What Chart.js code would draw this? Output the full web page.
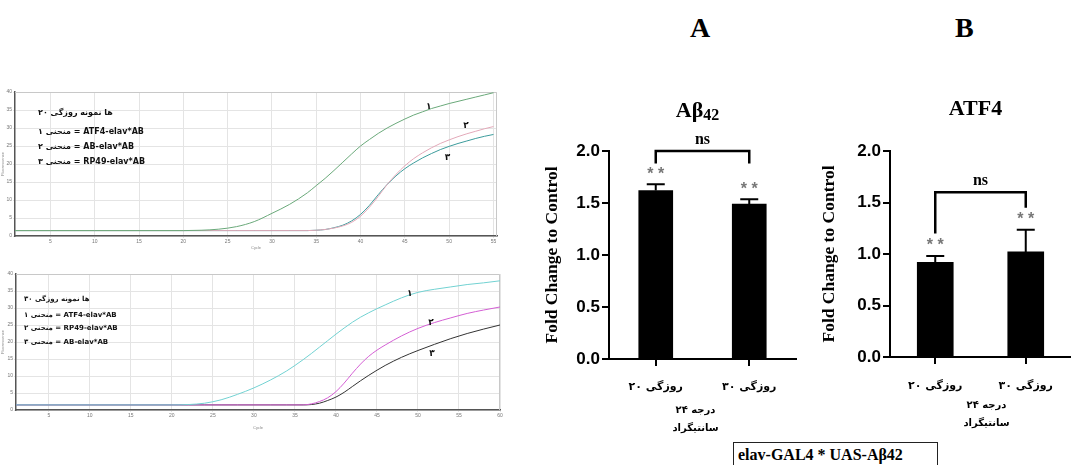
<!DOCTYPE html>
<html>
<head>
<meta charset="utf-8">
<script src="https://cdn.jsdelivr.net/npm/chart.js@4.4.0/dist/chart.umd.min.js"></script>
<style>
  body { margin: 0; background: #fff; width: 1071px; height: 465px; overflow: hidden; position: relative; }
  .pane { position: absolute; }
  .letter { position: absolute; font: bold 28px "Liberation Serif", serif; color: #000; }
  .genotype { position: absolute; left: 733px; top: 442px; width: 199px; height: 30px; border: 1px solid #222;
    font: bold 16px "Liberation Serif", serif; line-height: 24px; padding-left: 4px; color: #000; }
</style>
</head>
<body>
<div class="pane" style="left:0;top:85px;width:505px;height:165px"><canvas id="qpcr20"></canvas></div>
<div class="pane" style="left:0;top:265px;width:505px;height:165px"><canvas id="qpcr30"></canvas></div>
<div class="pane" style="left:520px;top:90px;width:280px;height:350px"><canvas id="barAb"></canvas></div>
<div class="pane" style="left:790px;top:90px;width:281px;height:350px"><canvas id="barAtf"></canvas></div>
<div class="letter" style="left:690px;top:12px">A</div>
<div class="letter" style="left:955px;top:12px">B</div>
<div class="genotype">elav-GAL4 * UAS-Aβ42</div>

<script>
// --- amplification curves, 20 day flies ---
const cycles20 = [1, 5, 10, 15, 20, 22, 24, 26, 28, 30, 32, 34, 35, 36, 37, 38, 39, 40, 41, 42, 43, 44, 45, 46, 47, 48, 49, 50, 51, 52, 53, 54, 55];
const atf4Day20 = [1.5, 1.5, 1.5, 1.5, 1.5, 1.6, 1.9, 2.6, 4.0, 6.3, 8.8, 12.0, 14.0, 16.0, 18.2, 20.5, 22.8, 25.0, 26.8, 28.5, 30.0, 31.3, 32.5, 33.6, 34.5, 35.4, 36.1, 36.8, 37.4, 38.0, 38.6, 39.2, 39.8];
const abDay20 = [1.5, 1.5, 1.5, 1.5, 1.5, 1.5, 1.5, 1.5, 1.5, 1.5, 1.5, 1.5, 1.6, 1.8, 2.2, 2.8, 3.8, 5.5, 8.0, 11.0, 14.3, 17.1, 19.5, 21.5, 23.1, 24.5, 25.7, 26.7, 27.6, 28.4, 29.1, 29.8, 30.4];
const rp49Day20 = [1.5, 1.5, 1.5, 1.5, 1.5, 1.5, 1.5, 1.5, 1.5, 1.5, 1.5, 1.5, 1.6, 1.8, 2.3, 3.0, 4.2, 6.0, 8.5, 11.5, 14.3, 16.7, 18.7, 20.3, 21.7, 22.9, 24.0, 24.9, 25.7, 26.4, 27.1, 27.7, 28.2];
const xTicks20 = [5, 10, 15, 20, 25, 30, 35, 40, 45, 50, 55];

// --- amplification curves, 30 day flies ---
const cycles30 = [1, 5, 10, 15, 20, 22, 24, 26, 28, 30, 32, 34, 36, 37, 38, 39, 40, 41, 42, 43, 44, 45, 46, 48, 50, 52, 54, 56, 58, 60];
const atf4Day30 = [1.5, 1.5, 1.5, 1.5, 1.5, 1.6, 2.0, 3.0, 4.6, 6.5, 8.8, 11.5, 14.8, 16.6, 18.5, 20.4, 22.3, 24.1, 25.8, 27.3, 28.6, 29.8, 30.9, 33.0, 34.6, 35.5, 36.2, 36.9, 37.4, 38.0];
const rp49Day30 = [1.5, 1.5, 1.5, 1.5, 1.5, 1.5, 1.5, 1.5, 1.5, 1.5, 1.5, 1.5, 1.5, 1.8, 2.5, 3.6, 5.4, 7.9, 10.8, 13.5, 15.8, 17.6, 19.1, 21.8, 24.0, 25.7, 27.1, 28.4, 29.4, 30.3];
const abDay30 = [1.5, 1.5, 1.5, 1.5, 1.5, 1.5, 1.5, 1.5, 1.5, 1.5, 1.5, 1.5, 1.5, 1.6, 2.0, 2.8, 3.8, 5.2, 6.9, 8.6, 10.2, 11.7, 13.1, 15.5, 17.5, 19.3, 21.0, 22.5, 23.8, 25.0];
const xTicks30 = [5, 10, 15, 20, 25, 30, 35, 40, 45, 50, 55, 60];
const fluoTicks = [0, 5, 10, 15, 20, 25, 30, 35, 40];

// legend text inside the qPCR plots, pieces listed left to right as printed
const legend20 = [["۲۰", "روزگی", "نمونه", "ها"], ["۱", "منحنی", "= ATF4-elav*AB"], ["۲", "منحنی", "= AB-elav*AB"], ["۳", "منحنی", "= RP49-elav*AB"]];
const legend30 = [["۳۰", "روزگی", "نمونه", "ها"], ["۱", "منحنی", "= ATF4-elav*AB"], ["۲", "منحنی", "= RP49-elav*AB"], ["۳", "منحنی", "= AB-elav*AB"]];
// curve numbers: [text, cycle, fluorescence]
const curveTags20 = [["۱", 47.7, 36.0], ["۲", 51.9, 30.6], ["۳", 49.8, 21.9]];
const curveTags30 = [["۱", 49.0, 34.3], ["۲", 51.6, 25.6], ["۳", 51.7, 16.6]];

// --- qPCR fold change (bar charts) ---
const groups = ["۲۰ روزگی", "۳۰ روزگی"];
const tempLabel = ["۲۴ درجه", "سانتیگراد"];
const abFold = [1.62, 1.49];
const abSem = [0.06, 0.045];
const atf4Fold = [0.92, 1.02];
const atf4Sem = [0.06, 0.215];
const foldTicks = [0, 0.5, 1.0, 1.5, 2.0];

function pairs(xs, ys) {
  return xs.map((x, i) => ({ x: x, y: ys[i] }));
}

// draw words one by one, left to right, so mixed Persian/Latin keeps the printed order
function drawWords(ctx, words, x, y, align) {
  const gap = ctx.measureText(" ").width;
  const widths = words.map(w => ctx.measureText(w).width);
  const total = widths.reduce((s, w) => s + w, 0) + gap * (words.length - 1);
  let cur = align === "center" ? x - total / 2 : x;
  ctx.textAlign = "left";
  words.forEach((w, i) => {
    ctx.fillText(w, cur, y);
    cur += widths[i] + gap;
  });
}

function qpcrChart(id, cycles, series, colors, xMax, xTicks, legendLines, legendPos, tags, box) {
  const plugin = {
    id: "qpcrText",
    beforeDatasetsDraw(chart) {
      const { ctx, chartArea: a } = chart;
      ctx.save();
      ctx.strokeStyle = "#c8c8c8";
      ctx.lineWidth = 1;
      ctx.beginPath();
      ctx.moveTo(a.left, a.top + 0.5);
      ctx.lineTo(a.right - 0.5, a.top + 0.5);
      ctx.lineTo(a.right - 0.5, a.bottom);
      ctx.stroke();
      ctx.restore();
    },
    afterDraw(chart) {
      const { ctx, chartArea: a, scales } = chart;
      ctx.save();
      ctx.direction = "ltr";
      ctx.fillStyle = "#111";
      ctx.textBaseline = "middle";
      ctx.font = "bold " + legendPos.size + "px 'DejaVu Sans'";
      legendLines.forEach((words, i) => drawWords(ctx, words, a.left + legendPos.dx, a.top + legendPos.ys[i], "left"));
      ctx.font = "bold 9px 'DejaVu Sans'";
      ctx.textAlign = "center";
      tags.forEach(([t, cx, cy]) => ctx.fillText(t, scales.x.getPixelForValue(cx), scales.y.getPixelForValue(cy)));
      ctx.restore();
    }
  };
  new Chart(document.getElementById(id), {
    type: "line",
    data: {
      datasets: series.map((s, i) => ({
        data: pairs(cycles, s),
        borderColor: colors[i],
        borderWidth: 1,
        pointRadius: 0,
        cubicInterpolationMode: "monotone"
      }))
    },
    options: {
      animation: false,
      responsive: true,
      maintainAspectRatio: false,
      layout: { padding: { top: box.top, right: box.right, left: 0, bottom: 0 } },
      plugins: { legend: { display: false }, tooltip: { enabled: false } },
      scales: {
        x: {
          type: "linear", min: 1, max: xMax,
          afterBuildTicks: s => { s.ticks = xTicks.map(v => ({ value: v })); },
          afterFit: s => { s.height = box.xh; },
          ticks: { font: { size: 5 }, color: "#777", padding: 1 },
          grid: { color: "#e4e4e4", tickLength: 2 },
          border: { color: "#555", width: 1.5 },
          title: { display: true, text: "Cycle", font: { size: 4 }, color: "#888", padding: 0 }
        },
        y: {
          min: 0, max: 40,
          afterBuildTicks: s => { s.ticks = fluoTicks.map(v => ({ value: v })); },
          afterFit: s => { s.width = box.yw; },
          ticks: { font: { size: 5 }, color: "#777", padding: 1 },
          grid: { color: "#e4e4e4", tickLength: 2 },
          border: { color: "#555", width: 1.5 },
          title: { display: true, text: "Fluorescence", font: { size: 4 }, color: "#888", padding: 0 }
        }
      }
    },
    plugins: [plugin]
  });
}

qpcrChart("qpcr20", cycles20, [atf4Day20, abDay20, rp49Day20], ["#6aa97a", "#e3a9b9", "#3c9c9c"], 55.4, xTicks20,
  legend20, { dx: 23, ys: [21, 40, 55, 70], size: 8 }, curveTags20, { top: 7, right: 8, xh: 14, yw: 15 });
qpcrChart("qpcr30", cycles30, [atf4Day30, rp49Day30, abDay30], ["#72d2d2", "#d45fd4", "#333333"], 60, xTicks30,
  legend30, { dx: 8, ys: [25, 41, 54, 68], size: 7 }, curveTags30, { top: 9, right: 5, xh: 20, yw: 16 });

function barChart(id, title, values, sems, bracket, cfg) {
  const plugin = {
    id: "barExtras",
    afterDatasetsDraw(chart) {
      const { ctx, chartArea: a, scales } = chart;
      const bars = chart.getDatasetMeta(0).data;
      const y = scales.y;
      ctx.save();
      ctx.direction = "ltr";
      // upper error bars
      ctx.strokeStyle = "#000";
      ctx.lineWidth = 2;
      bars.forEach((b, i) => {
        const top = y.getPixelForValue(values[i] + sems[i]);
        ctx.beginPath();
        ctx.moveTo(b.x, b.y);
        ctx.lineTo(b.x, top);
        ctx.moveTo(b.x - 9, top);
        ctx.lineTo(b.x + 9, top);
        ctx.stroke();
        ctx.fillStyle = "#777";
        ctx.font = "bold 16px 'Liberation Sans'";
        ctx.textAlign = "center";
        ctx.textBaseline = "middle";
        ctx.fillText("* *", b.x, top - 10);
      });
      // significance bracket
      const yTop = y.getPixelForValue(bracket.top);
      ctx.lineWidth = 2.5;
      ctx.beginPath();
      ctx.moveTo(bars[0].x, y.getPixelForValue(bracket.legs[0]));
      ctx.lineTo(bars[0].x, yTop);
      ctx.lineTo(bars[1].x, yTop);
      ctx.lineTo(bars[1].x, y.getPixelForValue(bracket.legs[1]));
      ctx.stroke();
      ctx.fillStyle = "#000";
      ctx.font = "bold 16px 'Liberation Serif'";
      ctx.textBaseline = "alphabetic";
      ctx.fillText("ns", (bars[0].x + bars[1].x) / 2, yTop - 7);
      // category labels and temperature note under the x axis
      ctx.textBaseline = "middle";
      ctx.font = "bold 11px 'DejaVu Sans'";
      const xs = scales.x;
      groups.forEach((g, i) => drawWords(ctx, g.split(" "), xs.getPixelForTick(i), a.bottom + cfg.labelDy, "center"));
      ctx.font = "bold 10px 'DejaVu Sans'";
      const mid = (a.left + a.right) / 2 + cfg.noteDx;
      tempLabel.forEach((t, i) => drawWords(ctx, t.split(" "), mid, a.bottom + cfg.noteDy + i * 18, "center"));
      // panel title, with optional subscript part
      ctx.textBaseline = "alphabetic";
      const cx = (a.left + a.right) / 2 + cfg.titleDx;
      ctx.font = "bold 22px 'Liberation Serif'";
      const w1 = ctx.measureText(title[0]).width;
      ctx.font = "bold 16px 'Liberation Serif'";
      const w2 = title[1] ? ctx.measureText(title[1]).width : 0;
      const x0 = cx - (w1 + w2) / 2;
      ctx.textAlign = "left";
      ctx.font = "bold 22px 'Liberation Serif'";
      ctx.fillText(title[0], x0, cfg.titleY);
      if (title[1]) {
        ctx.font = "bold 16px 'Liberation Serif'";
        ctx.fillText(title[1], x0 + w1, cfg.titleY + 3);
      }
      ctx.restore();
    }
  };
  new Chart(document.getElementById(id), {
    type: "bar",
    data: {
      labels: groups,
      datasets: [{ data: values, backgroundColor: "#000", barThickness: cfg.barW }]
    },
    options: {
      animation: false,
      responsive: true,
      maintainAspectRatio: false,
      layout: { padding: { top: 61, right: cfg.right, left: 0, bottom: 0 } },
      plugins: { legend: { display: false }, tooltip: { enabled: false } },
      scales: {
        x: {
          afterFit: s => { s.height = cfg.xh; },
          grid: { offset: false, drawOnChartArea: false, tickLength: 7, color: "#000", lineWidth: 2 },
          border: { color: "#000", width: 2 },
          ticks: { display: false }
        },
        y: {
          min: 0, max: 2,
          afterBuildTicks: s => { s.ticks = foldTicks.map(v => ({ value: v })); },
          afterFit: s => { s.width = cfg.yw; },
          grid: { drawOnChartArea: false, tickLength: 7, color: "#000", lineWidth: 2 },
          border: { color: "#000", width: 2 },
          ticks: { callback: v => v.toFixed(1), font: { family: "Liberation Sans", size: 17, weight: "bold" }, color: "#000", padding: 2 },
          title: {
            display: true, text: "Fold Change to Control", color: "#000",
            font: { family: "Liberation Serif", size: 17.5, weight: "bold" },
            padding: { top: cfg.yTitlePad, bottom: 0 }
          }
        }
      }
    },
    plugins: [plugin]
  });
}

barChart("barAb", ["Aβ", "42"], abFold, abSem, { top: 2.0, legs: [1.88, 1.88] },
  { right: 4, xh: 81, yw: 89, barW: 34, yTitlePad: 22, labelDy: 28, noteDy: 51, noteDx: -7, titleY: 27, titleDx: -5 });
barChart("barAtf", ["ATF4"], atf4Fold, atf4Sem, { top: 1.6, legs: [1.2, 1.45] },
  { right: 0, xh: 83, yw: 100, barW: 36, yTitlePad: 29, labelDy: 29, noteDy: 48, noteDx: 6, titleY: 25, titleDx: -5 });
</script>
</body>
</html>
